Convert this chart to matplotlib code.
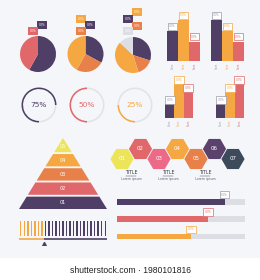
import matplotlib
matplotlib.use('Agg')
import matplotlib.pyplot as plt
import numpy as np

W, H = 260, 280
BG = '#f4f6fa'
PURPLE = '#4f3f66'
RED = '#e0686a'
ORANGE = '#e8804a'
YELLOW = '#f5a742'
GREY = '#dddee3'
LIME = '#ece55a'
PINK = '#ec6a88'
SLATE = '#3c4a5c'

# pies (clockwise from 12 o'clock)
pie_values = [[58, 42], [33, 25, 42], [30, 15, 42, 13]]
pie_colors = [[PURPLE, RED], [PURPLE, ORANGE, YELLOW], [PURPLE, ORANGE, YELLOW, GREY]]
pie_centers = [(38, 54), (85.5, 54), (133, 55)]
pie_tags = [[(PURPLE, 42, 25), (RED, 33, 31)],
            [(YELLOW, 81, 19), (PURPLE, 90, 25), (ORANGE, 81, 31)],
            [(YELLOW, 137, 12), (PURPLE, 128, 19), (ORANGE, 137, 26), (GREY, 128, 31)]]

# progress rings
ring_values = [75, 50, 25]
ring_colors = [PURPLE, RED, YELLOW]
ring_x = [39, 87, 135]

# bar charts
bar_colors = [PURPLE, YELLOW, RED]
bar_sets = [[62, 85, 40], [85, 62, 40], [35, 85, 65], [35, 65, 85]]

# pyramid
pyr_levels = ['01', '02', '03', '04', '05']
pyr_colors = [PURPLE, RED, ORANGE, YELLOW, LIME]
slider_total = 25
slider_value = 7

# hexagons
hex_labels = ['01', '02', '03', '04', '05', '06', '07']
hex_colors = [LIME, RED, PINK, YELLOW, ORANGE, '#5b426d', SLATE]
titles = ['TITLE', 'TITLE', 'TITLE']
subtitles = ['Lorem ipsum', 'Lorem ipsum', 'Lorem ipsum']

# progress bars
prog_values = [84, 71, 58]
prog_colors = [PURPLE, RED, YELLOW]

fig = plt.figure(figsize=(W / 100, H / 100), dpi=100)
fig.patch.set_facecolor(BG)


def px_axes(x0, y0, x1, y1):
    ax = fig.add_axes([x0 / W, 1 - y1 / H, (x1 - x0) / W, (y1 - y0) / H])
    ax.set_axis_off()
    return ax


def tag(ax, x, y, color, text='00%', boxed=False):
    if boxed:
        ax.text(x, y, text, fontsize=2.2, color=color, ha='center', va='center',
                bbox=dict(boxstyle='square,pad=0.5', fc='white', ec=color, lw=0.5),
                clip_on=False)
    else:
        ax.text(x, y, text, fontsize=2.2, color='white', ha='center', va='center',
                bbox=dict(boxstyle='square,pad=0.5', fc=color, ec='none'), clip_on=False)


# pies
for vals, cols, (cx, cy), tags in zip(pie_values, pie_colors, pie_centers, pie_tags):
    r = 18
    ax = px_axes(cx - r, cy - r, cx + r, cy + r)
    ax.pie(vals, colors=cols, startangle=90, counterclock=False, radius=1)
    ax.set_xlim(-1, 1)
    ax.set_ylim(-1, 1)
    for c, tx, ty in tags:
        tag(ax, (tx - cx) / r, -(ty - cy) / r, c)

# rings
for v, c, cx in zip(ring_values, ring_colors, ring_x):
    r, cy = 17.5, 105
    ax = px_axes(cx - r, cy - r, cx + r, cy + r)
    ax.pie([v, 100 - v], colors=[c, '#e2e3e8'], startangle=270, counterclock=False,
           radius=1, wedgeprops=dict(width=0.09))
    ax.set_xlim(-1, 1)
    ax.set_ylim(-1, 1)
    ax.text(0, 0, f'{v}%', fontsize=5.3, color=c, ha='center', va='center')

# bar charts
bar_boxes = [(167, 20, 200, 61), (211, 20, 244, 61), (165, 84, 193, 118), (216, 84, 244, 118)]
for vals, (x0, y0, x1, y1) in zip(bar_sets, bar_boxes):
    ax = px_axes(x0, y0, x1, y1)
    xs = np.arange(len(vals))
    ax.bar(xs, vals, width=1.0, color=bar_colors)
    ax.set_xlim(-0.5, len(vals) - 0.5)
    ax.set_ylim(0, max(vals))
    for x, v, c in zip(xs, vals, bar_colors):
        ec = '#9a9aa6' if c == PURPLE else c
        tag(ax, x, v + 10, ec, boxed=True)
        ax.text(x, -4, 'Item', fontsize=2, color=ec, rotation=90,
                ha='center', va='top', clip_on=False)

# pyramid
ax = px_axes(19, 138, 107, 209)
n = len(pyr_levels)
ax.set_xlim(-1, 1)
ax.set_ylim(0, n)
gap = 0.13
for i, (lab, c) in enumerate(zip(pyr_levels, pyr_colors)):
    y0, y1 = i, i + 1 - gap
    w0, w1 = 1 - y0 / n, 1 - y1 / n
    if i == n - 1:
        w1 = 0
        y1 = n
    ax.fill([-w0, w0, w1, -w1], [y0, y0, y1, y1], color=c, lw=0)
    ax.text(0, (y0 + y1) / 2 - (0.1 if i == n - 1 else 0), lab, fontsize=3.5,
            color='white', ha='center', va='center')

# slider
ax = px_axes(19, 221, 107, 245)
idx = np.arange(slider_total)
scol = [YELLOW if i < slider_value else PURPLE for i in idx]
ax.bar(idx, np.ones(slider_total), bottom=0.65, width=0.4, color=scol)
ax.plot([-0.5, slider_value - 0.5], [0.4, 0.4], color=YELLOW, lw=1.2, solid_capstyle='butt')
ax.plot([slider_value - 0.5, slider_total - 0.5], [0.4, 0.4], color=PURPLE, lw=1.2,
        solid_capstyle='butt')
ax.plot([slider_value - 0.5], [0.05], marker='^', color=PURPLE, ms=3)
ax.set_xlim(-0.5, slider_total - 0.5)
ax.set_ylim(0, 1.65)

# hexagons
ax = px_axes(108, 135, 252, 185)
ax.set_xlim(108, 252)
ax.set_ylim(185, 135)
hx = 122 + 18.5 * np.arange(len(hex_labels))
hy = np.where(np.arange(len(hex_labels)) % 2 == 0, 159, 149)
ax.scatter(hx, hy, s=280, marker='H', c=hex_colors, linewidths=0)
for x, y, lab in zip(hx, hy, hex_labels):
    ax.text(x, y, lab, fontsize=4, color='white', ha='center', va='center')
for i, (t, s) in enumerate(zip(titles, subtitles)):
    x = (hx[2 * i] + hx[2 * i + 1]) / 2
    ax.text(x, 173, t, fontsize=3.3, color='#333344', ha='center', va='center')
    ax.plot([x - 5, x + 5], [175.5, 175.5], color='#333344', lw=0.3)
    ax.text(x, 179, s, fontsize=2.3, color='#666677', ha='center', va='center')

# progress bars
ax = px_axes(117, 190, 245, 245)
ys = np.arange(len(prog_values))
ax.barh(ys, [100] * len(ys), height=0.33, color=GREY)
ax.barh(ys, prog_values, height=0.33, color=prog_colors)
ax.set_xlim(0, 100)
ax.set_ylim(len(ys) - 0.5, -0.7)
for y, v, c in zip(ys, prog_values, prog_colors):
    ec = '#9a9aa6' if c == PURPLE else c
    tag(ax, v, y - 0.42, ec, boxed=True)

# footer
fax = fig.add_axes([0, 0, 1, 22 / H])
fax.set_axis_off()
fax.add_patch(plt.Rectangle((0, 0), 1, 1, color='white', transform=fax.transAxes))
fax.text(0.5, 0.45, 'shutterstock.com · 1980101816', fontsize=6.2, color='#222222',
         family='Liberation Sans', ha='center', va='center', transform=fax.transAxes)

fig.savefig('out.png', dpi=100, facecolor=BG)
